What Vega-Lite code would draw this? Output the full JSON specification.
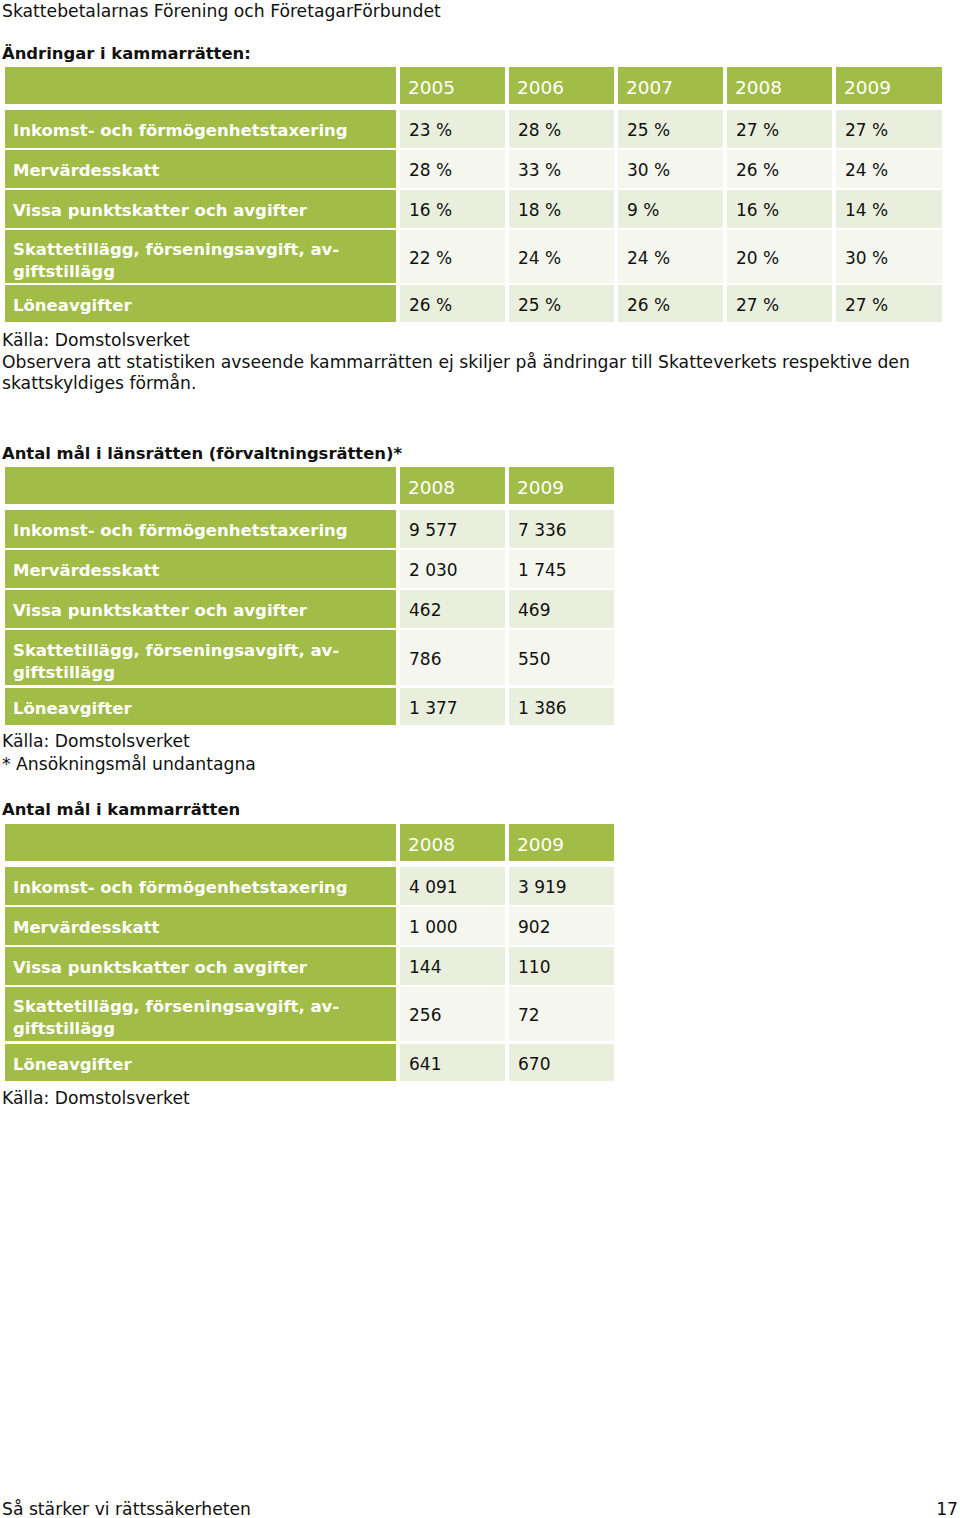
{
  "$schema": "https://vega.github.io/schema/vega-lite/v6.json",
  "width": 960,
  "height": 1518,
  "autosize": {"type": "none"},
  "padding": 0,
  "background": "white",
  "config": {"view": {"stroke": null}, "text": {"font": "DejaVu Sans"}},
  "datasets": {
    "cells": [
      {"t": 1, "r": 0, "c": 0, "v": ""},
      {"t": 1, "r": 0, "c": 1, "v": "2005"},
      {"t": 1, "r": 0, "c": 2, "v": "2006"},
      {"t": 1, "r": 0, "c": 3, "v": "2007"},
      {"t": 1, "r": 0, "c": 4, "v": "2008"},
      {"t": 1, "r": 0, "c": 5, "v": "2009"},
      {"t": 1, "r": 1, "c": 0, "v": "Inkomst- och förmögenhetstaxering"},
      {"t": 1, "r": 1, "c": 1, "v": "23 %"},
      {"t": 1, "r": 1, "c": 2, "v": "28 %"},
      {"t": 1, "r": 1, "c": 3, "v": "25 %"},
      {"t": 1, "r": 1, "c": 4, "v": "27 %"},
      {"t": 1, "r": 1, "c": 5, "v": "27 %"},
      {"t": 1, "r": 2, "c": 0, "v": "Mervärdesskatt"},
      {"t": 1, "r": 2, "c": 1, "v": "28 %"},
      {"t": 1, "r": 2, "c": 2, "v": "33 %"},
      {"t": 1, "r": 2, "c": 3, "v": "30 %"},
      {"t": 1, "r": 2, "c": 4, "v": "26 %"},
      {"t": 1, "r": 2, "c": 5, "v": "24 %"},
      {"t": 1, "r": 3, "c": 0, "v": "Vissa punktskatter och avgifter"},
      {"t": 1, "r": 3, "c": 1, "v": "16 %"},
      {"t": 1, "r": 3, "c": 2, "v": "18 %"},
      {"t": 1, "r": 3, "c": 3, "v": "9 %"},
      {"t": 1, "r": 3, "c": 4, "v": "16 %"},
      {"t": 1, "r": 3, "c": 5, "v": "14 %"},
      {"t": 1, "r": 4, "c": 0, "v": "Skattetillägg, förseningsavgift, av-\ngiftstillägg"},
      {"t": 1, "r": 4, "c": 1, "v": "22 %"},
      {"t": 1, "r": 4, "c": 2, "v": "24 %"},
      {"t": 1, "r": 4, "c": 3, "v": "24 %"},
      {"t": 1, "r": 4, "c": 4, "v": "20 %"},
      {"t": 1, "r": 4, "c": 5, "v": "30 %"},
      {"t": 1, "r": 5, "c": 0, "v": "Löneavgifter"},
      {"t": 1, "r": 5, "c": 1, "v": "26 %"},
      {"t": 1, "r": 5, "c": 2, "v": "25 %"},
      {"t": 1, "r": 5, "c": 3, "v": "26 %"},
      {"t": 1, "r": 5, "c": 4, "v": "27 %"},
      {"t": 1, "r": 5, "c": 5, "v": "27 %"},
      {"t": 2, "r": 0, "c": 0, "v": ""},
      {"t": 2, "r": 0, "c": 1, "v": "2008"},
      {"t": 2, "r": 0, "c": 2, "v": "2009"},
      {"t": 2, "r": 1, "c": 0, "v": "Inkomst- och förmögenhetstaxering"},
      {"t": 2, "r": 1, "c": 1, "v": "9 577"},
      {"t": 2, "r": 1, "c": 2, "v": "7 336"},
      {"t": 2, "r": 2, "c": 0, "v": "Mervärdesskatt"},
      {"t": 2, "r": 2, "c": 1, "v": "2 030"},
      {"t": 2, "r": 2, "c": 2, "v": "1 745"},
      {"t": 2, "r": 3, "c": 0, "v": "Vissa punktskatter och avgifter"},
      {"t": 2, "r": 3, "c": 1, "v": "462"},
      {"t": 2, "r": 3, "c": 2, "v": "469"},
      {"t": 2, "r": 4, "c": 0, "v": "Skattetillägg, förseningsavgift, av-\ngiftstillägg"},
      {"t": 2, "r": 4, "c": 1, "v": "786"},
      {"t": 2, "r": 4, "c": 2, "v": "550"},
      {"t": 2, "r": 5, "c": 0, "v": "Löneavgifter"},
      {"t": 2, "r": 5, "c": 1, "v": "1 377"},
      {"t": 2, "r": 5, "c": 2, "v": "1 386"},
      {"t": 3, "r": 0, "c": 0, "v": ""},
      {"t": 3, "r": 0, "c": 1, "v": "2008"},
      {"t": 3, "r": 0, "c": 2, "v": "2009"},
      {"t": 3, "r": 1, "c": 0, "v": "Inkomst- och förmögenhetstaxering"},
      {"t": 3, "r": 1, "c": 1, "v": "4 091"},
      {"t": 3, "r": 1, "c": 2, "v": "3 919"},
      {"t": 3, "r": 2, "c": 0, "v": "Mervärdesskatt"},
      {"t": 3, "r": 2, "c": 1, "v": "1 000"},
      {"t": 3, "r": 2, "c": 2, "v": "902"},
      {"t": 3, "r": 3, "c": 0, "v": "Vissa punktskatter och avgifter"},
      {"t": 3, "r": 3, "c": 1, "v": "144"},
      {"t": 3, "r": 3, "c": 2, "v": "110"},
      {"t": 3, "r": 4, "c": 0, "v": "Skattetillägg, förseningsavgift, av-\ngiftstillägg"},
      {"t": 3, "r": 4, "c": 1, "v": "256"},
      {"t": 3, "r": 4, "c": 2, "v": "72"},
      {"t": 3, "r": 5, "c": 0, "v": "Löneavgifter"},
      {"t": 3, "r": 5, "c": 1, "v": "641"},
      {"t": 3, "r": 5, "c": 2, "v": "670"}
    ],
    "lines": [
      {"line": 0, "role": "top", "v": "Skattebetalarnas Förening och FöretagarFörbundet"},
      {"line": 1, "role": "heading", "v": "Ändringar i kammarrätten:"},
      {"line": 14, "role": "note", "v": "Källa: Domstolsverket"},
      {"line": 15, "role": "note", "v": "Observera att statistiken avseende kammarrätten ej skiljer på ändringar till Skatteverkets respektive den"},
      {"line": 16, "role": "note", "v": "skattskyldiges förmån."},
      {"line": 17, "role": "heading", "v": "Antal mål i länsrätten (förvaltningsrätten)*"},
      {"line": 30, "role": "note", "v": "Källa: Domstolsverket"},
      {"line": 31, "role": "note", "v": "* Ansökningsmål undantagna"},
      {"line": 32, "role": "heading", "v": "Antal mål i kammarrätten"},
      {"line": 45, "role": "note", "v": "Källa: Domstolsverket"},
      {"line": 46, "role": "footer", "v": "Så stärker vi rättssäkerheten"},
      {"line": 46, "role": "pagenum", "v": "17"}
    ]
  },
  "resolve": {"scale": {"x": "shared", "y": "shared"}},
  "layer": [
    {
      "data": {"name": "cells"},
      "transform": [
        {"calculate": "2*datum.c+1", "as": "xs"},
        {"calculate": "datum.xs+1", "as": "xe"},
        {"calculate": "(datum.t==1?2:(datum.t==2?18:33))+2*datum.r", "as": "ys"},
        {"calculate": "datum.ys+1", "as": "ye"},
        {"calculate": "(datum.r==0||datum.c==0)?'g':(datum.r%2==1?'a':'b')", "as": "kind"}
      ],
      "mark": {"type": "rect"},
      "encoding": {
        "x": {"field": "xs", "type": "quantitative", "axis": null,
              "scale": {"domain": [0,1,2,3,4,5,6,7,8,9,10,11,12,13], "range": [2,5,396,400,505,509,614,618,723,727,832,836,942,958], "zero": false, "nice": false}},
        "x2": {"field": "xe"},
        "y": {"field": "ys", "type": "quantitative", "axis": null,
              "scale": {"domain": [0,1,2,3,4,5,6,7,8,9,10,11,12,13,14,15,16,17,18,19,20,21,22,23,24,25,26,27,28,29,30,31,32,33,34,35,36,37,38,39,40,41,42,43,44,45,46],
                        "range": [10,52,67,104,110,148,150,188,190,228,230,283,285,322,339,361,382,452,467,504,510,548,550,588,590,628,630,685,688,725,740,763,808,824,861,867,905,907,945,947,985,987,1041,1044,1081,1097,1508], "zero": false, "nice": false}},
        "y2": {"field": "ye"},
        "color": {"field": "kind", "type": "nominal", "legend": null,
                  "scale": {"domain": ["g","a","b"], "range": ["#a1bc47","#e9efdc","#f5f7ef"]}}
      }
    },
    {
      "data": {"name": "cells"},
      "transform": [
        {"filter": "datum.c==0 && datum.r>0 && datum.r!=4"},
        {"calculate": "2*datum.c+1", "as": "xs"},
        {"calculate": "(datum.t==1?2:(datum.t==2?18:33))+2*datum.r+0.5", "as": "ym"}
      ],
      "mark": {"type": "text", "align": "left", "baseline": "middle", "dx": 8, "dy": 2, "fontSize": 16.5, "fontWeight": "bold", "color": "white"},
      "encoding": {
        "x": {"field": "xs", "type": "quantitative"},
        "y": {"field": "ym", "type": "quantitative"},
        "text": {"field": "v"}
      }
    },
    {
      "data": {"name": "cells"},
      "transform": [
        {"filter": "datum.c==0 && datum.r==4"},
        {"calculate": "2*datum.c+1", "as": "xs"},
        {"calculate": "(datum.t==1?2:(datum.t==2?18:33))+2*datum.r+0.5", "as": "ym"}
      ],
      "mark": {"type": "text", "align": "left", "baseline": "middle", "dx": 8, "dy": -7, "fontSize": 16.5, "fontWeight": "bold", "color": "white", "lineBreak": "\n", "lineHeight": 22},
      "encoding": {
        "x": {"field": "xs", "type": "quantitative"},
        "y": {"field": "ym", "type": "quantitative"},
        "text": {"field": "v"}
      }
    },
    {
      "data": {"name": "cells"},
      "transform": [
        {"filter": "datum.c>0 && datum.r==0"},
        {"calculate": "2*datum.c+1", "as": "xs"},
        {"calculate": "(datum.t==1?2:(datum.t==2?18:33))+2*datum.r+0.5", "as": "ym"}
      ],
      "mark": {"type": "text", "align": "left", "baseline": "middle", "dx": 8, "dy": 2, "fontSize": 18.5, "color": "white"},
      "encoding": {
        "x": {"field": "xs", "type": "quantitative"},
        "y": {"field": "ym", "type": "quantitative"},
        "text": {"field": "v"}
      }
    },
    {
      "data": {"name": "cells"},
      "transform": [
        {"filter": "datum.c>0 && datum.r>0"},
        {"calculate": "2*datum.c+1", "as": "xs"},
        {"calculate": "(datum.t==1?2:(datum.t==2?18:33))+2*datum.r+0.5", "as": "ym"}
      ],
      "mark": {"type": "text", "align": "left", "baseline": "middle", "dx": 9, "dy": 2, "fontSize": 17, "color": "#111111"},
      "encoding": {
        "x": {"field": "xs", "type": "quantitative"},
        "y": {"field": "ym", "type": "quantitative"},
        "text": {"field": "v"}
      }
    },
    {
      "data": {"name": "lines"},
      "transform": [{"filter": "datum.role=='top' || datum.role=='note' || datum.role=='footer'"}, {"calculate": "0", "as": "xs"}],
      "mark": {"type": "text", "align": "left", "baseline": "middle", "dy": 2, "fontSize": 17.2, "color": "#111111"},
      "encoding": {
        "x": {"field": "xs", "type": "quantitative"},
        "y": {"field": "line", "type": "quantitative"},
        "text": {"field": "v"}
      }
    },
    {
      "data": {"name": "lines"},
      "transform": [{"filter": "datum.role=='heading'"}, {"calculate": "0", "as": "xs"}],
      "mark": {"type": "text", "align": "left", "baseline": "middle", "dy": 2, "fontSize": 16.4, "fontWeight": "bold", "color": "#111111"},
      "encoding": {
        "x": {"field": "xs", "type": "quantitative"},
        "y": {"field": "line", "type": "quantitative"},
        "text": {"field": "v"}
      }
    },
    {
      "data": {"name": "lines"},
      "transform": [{"filter": "datum.role=='pagenum'"}, {"calculate": "13", "as": "xs"}],
      "mark": {"type": "text", "align": "right", "baseline": "middle", "dy": 2, "fontSize": 17.2, "color": "#111111"},
      "encoding": {
        "x": {"field": "xs", "type": "quantitative"},
        "y": {"field": "line", "type": "quantitative"},
        "text": {"field": "v"}
      }
    }
  ]
}
